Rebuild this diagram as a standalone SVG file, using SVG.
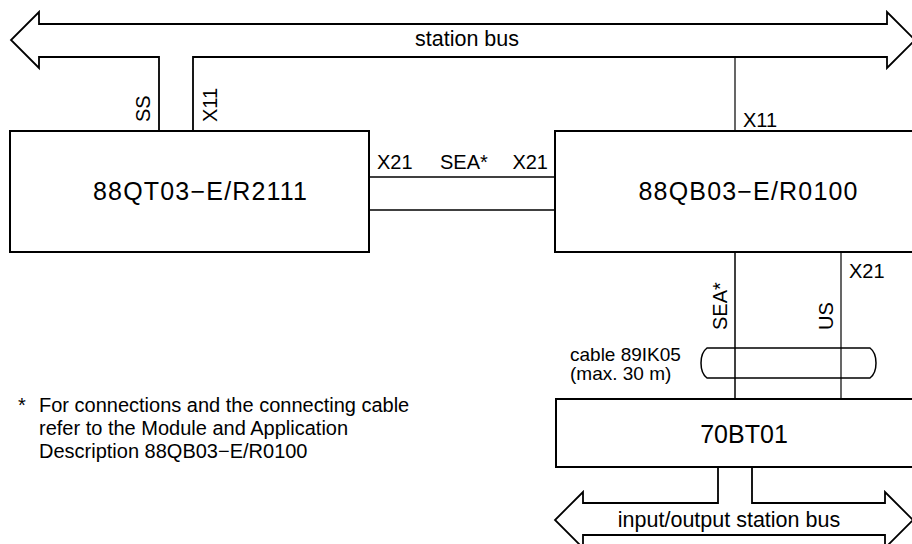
<svg xmlns="http://www.w3.org/2000/svg" width="912" height="544" viewBox="0 0 912 544">
<style>
.box{fill:#fff;stroke:#000;stroke-width:2}
.bus{fill:#fff;stroke:#000;stroke-width:1.8;stroke-linejoin:miter}
.ln{fill:none;stroke:#000;stroke-width:1.5}
.thin{fill:none;stroke:#000;stroke-width:1.2}
text{font-family:"Liberation Sans",Arial,Helvetica,sans-serif;fill:#000}
.t{font-size:25px;text-anchor:middle}
.l{font-size:20px}
.b{font-size:21.5px;text-anchor:middle}
.c{font-size:19px}
.f{font-size:20px}
</style>
<rect width="912" height="544" fill="#fff"/>
<g id="connectors">
<path class="bus" d="M159,131 V57 H39 V68 L11,40 L39,12 V24 H887 V12 L915,40 L887,68 V57 H193 V131"/>
<line class="thin" x1="735" y1="57" x2="735" y2="131"/>
<line class="ln" x1="369" y1="177" x2="556" y2="177"/>
<line class="ln" x1="369" y1="210" x2="556" y2="210"/>
<line class="ln" x1="735" y1="252" x2="735" y2="399"/>
<line class="thin" x1="841" y1="252" x2="841" y2="399"/>
<path class="ln" d="M707,348 H870 C878,354 878,372 870,378 H707 C699,372 699,354 707,348 Z"/>
<path class="bus" d="M718,467 V503 H583 V492 L555,520 L583,548 V535 H885 V548 L913,520 L885,492 V503 H752 V467"/>
</g>
<g id="labels">
<text class="b" x="467" y="46">station bus</text>
<text class="l" transform="translate(150,122) rotate(-90)">SS</text>
<text class="l" transform="translate(217,122) rotate(-90)">X11</text>
<text class="l" x="743" y="127">X11</text>
<text class="l" x="377" y="169">X21</text>
<text class="l" x="440" y="169">SEA*</text>
<text class="l" x="548" y="169" text-anchor="end">X21</text>
<text class="l" transform="translate(727,330) rotate(-90)">SEA*</text>
<text class="l" transform="translate(833,330) rotate(-90)">US</text>
<text class="l" x="849" y="278">X21</text>
<text class="c" x="570" y="361">cable 89IK05</text>
<text class="c" x="570" y="380">(max. 30 m)</text>
<text class="b" x="729" y="527">input/output station bus</text>
</g>
<g id="node-88QT03">
<rect class="box" x="10" y="131" width="359" height="121"/>
<text class="t" x="200" y="200" textLength="214" lengthAdjust="spacing">88QT03−E/R2111</text>
</g>
<g id="node-88QB03">
<rect class="box" x="555" y="131" width="390" height="121"/>
<text class="t" x="748" y="200" textLength="219" lengthAdjust="spacing">88QB03−E/R0100</text>
</g>
<g id="node-70BT01">
<rect class="box" x="556" y="399" width="380" height="68"/>
<text class="t" x="744" y="443">70BT01</text>
</g>
<g id="footnote">
<text class="f" x="18" y="412">*</text>
<text class="f" x="39" y="412">For connections and the connecting cable</text>
<text class="f" x="39" y="435">refer to the Module and Application</text>
<text class="f" x="39" y="458">Description 88QB03−E/R0100</text>
</g>
</svg>
